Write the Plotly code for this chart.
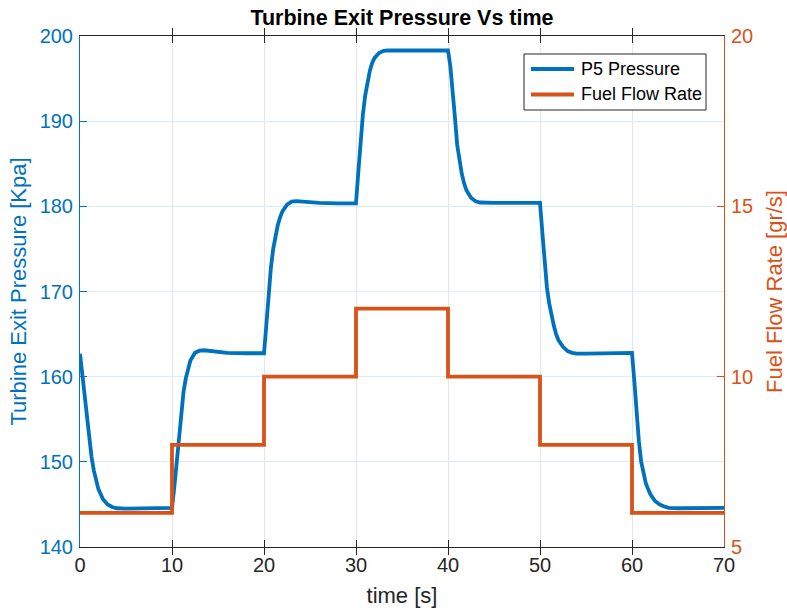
import plotly.graph_objects as go

# Turbine exit pressure (P5) response, sampled from the test run
time_s = [
    0.0, 0.25, 0.5, 0.75, 1.0, 1.25, 1.5, 1.75, 2.0, 2.5, 3.0, 3.5, 4.0, 5.0, 6.0, 8.0,
    10.0, 10.25, 10.5, 10.75, 11.0, 11.25, 11.5, 11.75, 12.0, 12.5, 13.0, 13.5, 14.0, 15.0, 16.0, 18.0,
    20.0, 20.25, 20.5, 20.75, 21.0, 21.25, 21.5, 21.75, 22.0, 22.5, 23.0, 23.5, 24.0, 25.0, 26.0, 28.0,
    30.0, 30.25, 30.5, 30.75, 31.0, 31.25, 31.5, 31.75, 32.0, 32.5, 33.0, 33.5, 34.0, 35.0, 37.0,
    40.0, 40.25, 40.5, 40.75, 41.0, 41.25, 41.5, 41.75, 42.0, 42.5, 43.0, 43.5, 44.0, 45.0, 47.0,
    50.0, 50.25, 50.5, 50.75, 51.0, 51.25, 51.5, 51.75, 52.0, 52.5, 53.0, 53.5, 54.0, 55.0, 57.0,
    60.0, 60.25, 60.5, 60.75, 61.0, 61.25, 61.5, 61.75, 62.0, 62.5, 63.0, 63.5, 64.0, 65.0, 67.0, 70.0,
]
p5_kpa = [
    162.7, 160.3, 157.8, 155.0, 152.6, 150.6, 149.0, 147.7, 146.8, 145.6, 145.0, 144.7, 144.55, 144.5, 144.5, 144.55,
    144.6, 147.0, 150.0, 153.2, 156.0, 158.2, 159.8, 161.0, 161.9, 162.8, 163.05, 163.1, 163.05, 162.9, 162.8, 162.75,
    162.75, 166.0, 169.5, 172.8, 175.0, 176.7, 177.8, 178.7, 179.4, 180.2, 180.55, 180.6, 180.55, 180.45, 180.4, 180.35,
    180.35, 184.0, 187.8, 190.8, 193.0, 194.7, 195.9, 196.8, 197.4, 198.0, 198.25, 198.3, 198.3, 198.3, 198.3,
    198.3, 196.5, 193.8, 190.5, 187.2, 185.2, 183.8, 182.7, 181.9, 181.0, 180.6, 180.45, 180.4, 180.4, 180.4,
    180.4, 177.0, 173.4, 170.5, 168.6, 167.2, 166.0, 165.0, 164.3, 163.5, 163.0, 162.8, 162.7, 162.7, 162.75,
    162.8, 159.5, 155.8, 152.4, 150.0, 148.5, 147.5, 146.8, 146.2, 145.4, 145.0, 144.75, 144.6, 144.55, 144.6, 144.6,
]

# Fuel flow rate schedule (step changes every 10 s)
fuel_time_s = [0, 10, 20, 30, 40, 50, 60, 70]
fuel_rate = [6, 8, 10, 12, 10, 8, 6, 6]

x_ticks = [0, 10, 20, 30, 40, 50, 60, 70]
p_ticks = [140, 150, 160, 170, 180, 190, 200]
f_ticks = [5, 10, 15, 20]

series_names = ["P5 Pressure", "Fuel Flow Rate"]

BLUE = "#0072BD"
ORANGE = "#D95319"
DARK = "#262626"
FONT = "Liberation Sans, Arial, sans-serif"
LW = 3.8

fig = go.Figure()
fig.add_trace(go.Scatter(
    x=time_s, y=p5_kpa, mode="lines", name=series_names[0],
    line=dict(color=BLUE, width=LW), yaxis="y",
))
fig.add_trace(go.Scatter(
    x=fuel_time_s, y=fuel_rate, mode="lines", name=series_names[1],
    line=dict(color=ORANGE, width=LW, shape="hv"), yaxis="y2",
))

# Legend box drawn in paper space (plot area spans 644 x 511 px)
PW, PH = 644.0, 511.0
def px_x(v):
    return v / PW
def px_y(v):
    return 1 - v / PH

box_l, box_t, box_r, box_b = 444, 18, 626, 74
rows = [33, 58.5]
colors = [BLUE, ORANGE]

shapes = [dict(
    type="rect", xref="paper", yref="paper",
    x0=px_x(box_l), x1=px_x(box_r), y0=px_y(box_b), y1=px_y(box_t),
    line=dict(color=DARK, width=1), fillcolor="white", layer="above",
)]
annotations = []
for name, col, ry in zip(series_names, colors, rows):
    shapes.append(dict(
        type="line", xref="paper", yref="paper",
        x0=px_x(box_l + 7), x1=px_x(box_l + 50), y0=px_y(ry), y1=px_y(ry),
        line=dict(color=col, width=LW), layer="above",
    ))
    annotations.append(dict(
        text=name, xref="paper", yref="paper", x=px_x(box_l + 55), y=px_y(ry),
        xanchor="left", yanchor="middle", showarrow=False,
        font=dict(family=FONT, size=18, color="black"),
    ))

fig.update_layout(
    width=787, height=612,
    margin=dict(l=80, r=63, t=36, b=65),
    paper_bgcolor="white", plot_bgcolor="white",
    font=dict(family=FONT, size=20, color=DARK),
    showlegend=False,
    title=dict(
        text="<b>Turbine Exit Pressure Vs time</b>",
        font=dict(family=FONT, size=21.5, color="black"),
        x=0.5, xref="paper", xanchor="center",
        y=1 - 17 / 612, yref="container", yanchor="middle",
    ),
    xaxis=dict(
        range=[0, 70], tickvals=x_ticks, ticks="inside", ticklen=7, tickwidth=1,
        tickcolor=DARK, showline=True, linecolor=DARK, linewidth=1, mirror="allticks",
        showgrid=True, gridcolor="#E6E6E6", gridwidth=1, zeroline=False,
        tickfont=dict(size=20, color=DARK), automargin=False,
        title=dict(text="time [s]", font=dict(size=22, color=DARK), standoff=12),
    ),
    yaxis=dict(
        range=[140, 200], tickvals=p_ticks, ticks="inside", ticklen=7, tickwidth=1,
        tickcolor=BLUE, showline=True, linecolor=BLUE, linewidth=1,
        showgrid=True, gridcolor="#DCEBF6", gridwidth=1, zeroline=False,
        tickfont=dict(size=20, color=BLUE), ticklabelstandoff=2, automargin=False,
        title=dict(text="Turbine Exit Pressure [Kpa]", font=dict(size=22, color=BLUE), standoff=6),
    ),
    yaxis2=dict(
        range=[5, 20], tickvals=f_ticks, ticks="inside", ticklen=7, tickwidth=1,
        tickcolor=ORANGE, showline=True, linecolor=ORANGE, linewidth=1,
        overlaying="y", side="right", anchor="x",
        showgrid=False, zeroline=False, automargin=False,
        tickfont=dict(size=20, color=ORANGE), ticklabelstandoff=2,
        title=dict(text="Fuel Flow Rate [gr/s]", font=dict(size=22, color=ORANGE), standoff=15),
    ),
    shapes=shapes,
    annotations=annotations,
)

fig.write_html("out.html")
